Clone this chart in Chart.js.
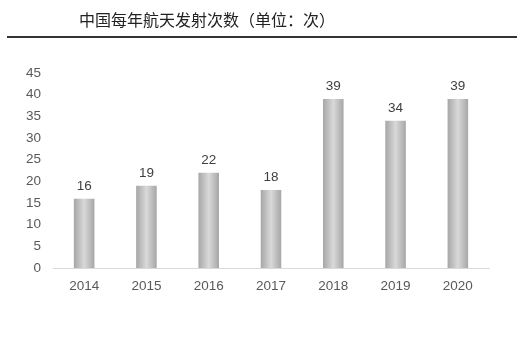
<!DOCTYPE html>
<html>
<head>
<meta charset="utf-8">
<script src="https://cdn.jsdelivr.net/npm/chart.js@4"></script>
<style>
  html, body { margin: 0; padding: 0; background: #fff; }
  #wrap { width: 522px; height: 350px; position: relative; }
</style>
</head>
<body>
<div id="wrap"><canvas id="chart"></canvas></div>
<script>
// chart data
const years = ['2014', '2015', '2016', '2017', '2018', '2019', '2020'];
const launches = [16, 19, 22, 18, 39, 34, 39];
const yTicks = [0, 5, 10, 15, 20, 25, 30, 35, 40, 45];
const chartTitle = '中国每年航天发射次数（单位：次）';

const FONT = '"Liberation Sans", Arial, sans-serif';
const BAR_PCT = 0.33;

// title + rule above the plot
const headerPlugin = {
  id: 'header',
  afterDraw(chart) {
    const ctx = chart.ctx;
    ctx.save();
    ctx.fillStyle = '#222';
    ctx.font = '16px "Noto Sans CJK SC", sans-serif';
    ctx.textBaseline = 'middle';
    ctx.textAlign = 'left';
    ctx.fillText(chartTitle, 79, 20);
    ctx.strokeStyle = '#333';
    ctx.lineWidth = 2;
    ctx.beginPath();
    ctx.moveTo(7, 37);
    ctx.lineTo(517, 37);
    ctx.stroke();
    ctx.restore();
  }
};

// value labels on top of each bar
const valueLabels = {
  id: 'valueLabels',
  afterDatasetsDraw(chart) {
    const ctx = chart.ctx;
    const meta = chart.getDatasetMeta(0);
    ctx.save();
    ctx.fillStyle = '#404040';
    ctx.font = '13.5px ' + FONT;
    ctx.textAlign = 'center';
    ctx.textBaseline = 'bottom';
    meta.data.forEach((bar, i) => {
      ctx.fillText(launches[i], bar.x, bar.y - 6);
    });
    ctx.restore();
  }
};

// horizontal metallic gradient, built from the x scale
function barGradient(context) {
  const chart = context.chart;
  const xs = chart.scales.x;
  if (!xs || !chart.chartArea || context.dataIndex === undefined) return '#bdbdbd';
  const cx = xs.getPixelForValue(context.dataIndex);
  const w = (xs.width / years.length) * BAR_PCT;
  const g = chart.ctx.createLinearGradient(cx - w / 2, 0, cx + w / 2, 0);
  g.addColorStop(0, '#a6a6a6');
  g.addColorStop(0.5, '#d9d9d9');
  g.addColorStop(1, '#a6a6a6');
  return g;
}

const ctx = document.getElementById('chart');
new Chart(ctx, {
  type: 'bar',
  data: {
    labels: years,
    datasets: [{
      data: launches,
      backgroundColor: barGradient,
      borderWidth: 0,
      barPercentage: BAR_PCT,
      categoryPercentage: 1
    }]
  },
  options: {
    responsive: true,
    maintainAspectRatio: false,
    animation: false,
    layout: { padding: { top: 73, right: 33, left: 0, bottom: 0 } },
    plugins: {
      legend: { display: false },
      tooltip: { enabled: false },
      title: { display: false }
    },
    scales: {
      x: {
        grid: { display: false },
        border: { display: true, color: '#d9d9d9', width: 1 },
        ticks: { color: '#595959', font: { family: FONT, size: 13.5 }, padding: 2 },
        afterFit: s => { s.height = 82; }
      },
      y: {
        min: 0,
        max: 45,
        afterBuildTicks: s => { s.ticks = yTicks.map(v => ({ value: v })); },
        grid: { display: false },
        border: { display: false },
        ticks: { color: '#595959', font: { family: FONT, size: 13.5 }, padding: 4 },
        afterFit: s => { s.width = 53; }
      }
    }
  },
  plugins: [headerPlugin, valueLabels]
});
</script>
</body>
</html>
